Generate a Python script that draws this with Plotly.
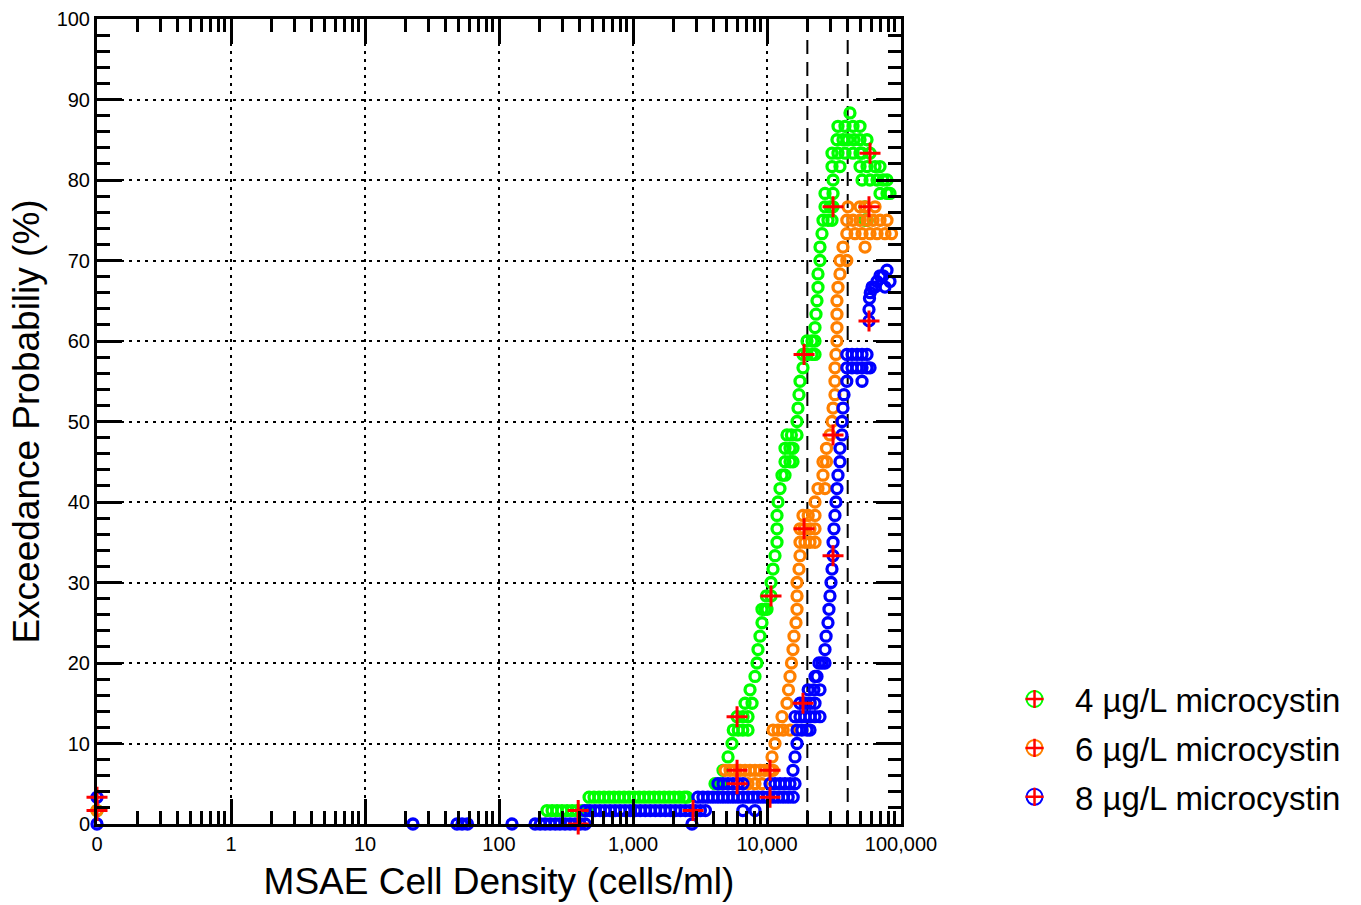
import plotly.graph_objects as go

# Exceedance probability (%) levels and the cell densities (cells/ml) observed at each level.
# A density of 0.1 stands for samples with no MSAE cells (plotted at the "0" tick).
green_levels = [1.67, 3.33, 5, 6.67, 8.33, 10, 11.67, 13.33, 15, 16.67, 18.33, 20, 21.67, 23.33,
                25, 26.67, 28.33, 30, 31.67, 33.33, 35, 36.67, 38.33, 40, 41.67, 43.33, 45, 46.67,
                48.33, 50, 51.67, 53.33, 55, 56.67, 58.33, 60, 61.67, 63.33, 65, 66.67, 68.33, 70,
                71.67, 73.33, 75, 76.67, 78.33, 80, 81.67, 83.33, 85, 86.67, 88.33]
green_cells = [
    [0.1, 228, 249, 271, 295, 322, 351, 383, 417, 455],
    [470, 512, 558, 608, 663, 722, 787, 858, 935, 1019, 1111, 1211, 1320, 1439, 1568, 1709,
     1863, 2031, 2214, 2413, 2530],
    [4093, 4460], [4696], [5120], [5482], [5600, 6100, 6600, 7220], [5976, 6626, 7220],
    [6858, 7734], [7472], [8135], [8418], [8564], [8863], [9173], [9173, 9658, 10000],
    [9900, 10714], [10714], [11090], [11475], [11876], [11876], [11876], [12081], [12500],
    [12940, 13625], [13625, 14850, 15630], [13625, 14850, 15630], [14100, 15200, 16750],
    [16750], [17030], [17330], [17630], [18560], [18560, 19880, 21680, 22820],
    [19880, 21680, 22820], [22820], [23210], [23610], [24020], [24020], [24860], [24860],
    [25730], [26170, 28520, 30550, 53880, 56000], [27090, 29510, 31100, 53880],
    [27090, 31100, 69720, 78630, 82770], [31100, 51180, 58730, 66230, 73390, 78630],
    [30550, 35040, 49450, 55760, 63990, 69720],
    [30550, 33860, 38190, 43850, 49450, 51180, 58730],
    [33270, 36900, 40200, 44600, 49450, 55760], [33860, 38190, 43850, 49450], [41600],
]

orange_levels = [1.67, 5, 6.67, 8.33, 10, 11.67, 13.33, 15, 16.67, 18.33, 20, 21.67, 23.33, 25,
                 26.67, 28.33, 30, 31.67, 33.33, 35, 36.67, 38.33, 40, 41.67, 43.33, 45, 46.67,
                 48.33, 50, 51.67, 53.33, 55, 56.67, 58.33, 60, 61.67, 63.33, 65, 66.67, 68.33,
                 70, 71.67, 73.33, 75, 76.67]
orange_cells = [
    [0.1], [7220, 8135, 9173],
    [4862, 5298, 5773, 6293, 6858, 7472, 8135, 8863, 9658, 10530, 11090],
    [10900], [11475], [11090, 12081, 13200, 14850], [12940], [14100], [14470], [14850],
    [15230], [15630], [15900], [16460], [16750], [16750], [16750], [17330], [17630],
    [17630, 19210, 20940, 22820], [17630, 18900, 20940, 22820], [18560, 20300, 22820],
    [22820], [24020, 27090], [26170], [26170, 27800], [27800], [29510], [30550], [31100],
    [32150], [32150], [32150], [32700], [33270], [33270], [33270], [33270], [33860], [35040],
    [35040, 39400], [36900, 53880],
    [39400, 45390, 51180, 58730, 66230, 75960, 85000],
    [39400, 43850, 49450, 55760, 61830, 69720, 78630],
    [40200, 49450, 53880, 63990],
]

blue_levels = [0, 1.67, 3.33, 5, 6.67, 8.33, 10, 11.67, 13.33, 15, 16.67, 18.33, 20, 21.67,
               23.33, 25, 26.67, 28.33, 30, 31.67, 33.33, 35, 36.67, 38.33, 40, 41.67, 43.33, 45,
               46.67, 48.33, 50, 51.67, 53.33, 55, 56.67, 58.33, 62.5, 63.9, 65.3, 66.0, 66.7,
               67.4, 68.1, 68.8]
blue_cells = [
    [0.1, 22.8, 48.6, 53, 58.2, 125, 186, 203, 221, 241, 263, 285, 311, 339, 370, 403, 440,
     2754],
    [438, 478, 521, 568, 619, 675, 736, 802, 874, 953, 1039, 1133, 1235, 1346, 1467, 1599,
     1743, 1900, 2071, 2257, 2460, 2682, 2923, 3186, 3473, 6600, 8135],
    [0.1, 3050, 3325, 3624, 3950, 4306, 4693, 5116, 5576, 6078, 6625, 7221, 7871, 8579, 9351,
     10193, 11110, 12110, 13200, 14388, 15683],
    [4300, 4690, 5116, 5576, 6078, 6625, 10530, 11475, 12500, 13625, 14850, 16180],
    [15630], [16180], [16750], [16750, 18200, 19880, 20940],
    [16180, 17630, 19210, 20940, 22800, 24860], [17630, 19210, 21000, 22820],
    [20300, 22400, 24860], [22820, 23610], [24400, 25730, 27090], [27090], [27600], [28520],
    [29000], [29510], [30030], [30550], [31100], [31100], [31600], [32150], [32700], [33270],
    [33860], [35040], [35040], [36290], [36290], [36900], [37550], [39400, 51180],
    [39400, 43100, 47000, 51180, 55760, 58730], [39400, 43100, 47000, 51180, 55760],
    [57700], [57700], [58200], [59000], [60800, 63990, 75960], [66230, 82770],
    [69720, 73390], [78630],
]

# Observed exceedance values (red crosses)
green_obs_cells = [0.1, 390, 5976, 10714, 18900, 31100, 58730]
green_obs_pct = [1.67, 1.67, 13.33, 28.33, 58.33, 76.67, 83.33]
orange_obs_cells = [0.1, 5976, 10530, 18900, 31100, 57700]
orange_obs_pct = [3.33, 6.67, 6.67, 36.67, 48.33, 76.67]
blue_obs_cells = [390, 2806, 5976, 10530, 18560, 31100, 57700]
blue_obs_pct = [0, 1.67, 5, 3.33, 15, 33.33, 62.5]

# Reference densities marked with dashed vertical lines
threshold_cells = [20000, 40000]

x_tick_vals = [0.1, 1, 10, 100, 1000, 10000, 100000]
x_tick_text = ["0", "1", "10", "100", "1,000", "10,000", "100,000"]
y_tick_vals = list(range(0, 101, 10))

series_names = ["4 \u00b5g/L microcystin", "6 \u00b5g/L microcystin", "8 \u00b5g/L microcystin"]
series_colors = ["#00FF00", "#FF8000", "#0000FF"]
RED = "#FF0000"


def flatten(levels, cells):
    xs, ys = [], []
    for level, row in zip(levels, cells):
        xs.extend(row)
        ys.extend([level] * len(row))
    return xs, ys


FONT = "Arial, Liberation Sans, sans-serif"
fig = go.Figure()

for t in threshold_cells:
    fig.add_trace(go.Scatter(
        x=[t, t], y=[0, 100], mode="lines", showlegend=False, hoverinfo="skip",
        line=dict(color="black", width=2, dash="14px,8px"),
    ))

for color, levels, cells in zip(series_colors,
                                [green_levels, orange_levels, blue_levels],
                                [green_cells, orange_cells, blue_cells]):
    xs, ys = flatten(levels, cells)
    fig.add_trace(go.Scatter(
        x=xs, y=ys, mode="markers", showlegend=False, cliponaxis=False,
        marker=dict(symbol="circle-open", size=10, color=color, line=dict(width=3.3, color=color)),
    ))

for ox, oy in zip([green_obs_cells, orange_obs_cells, blue_obs_cells],
                  [green_obs_pct, orange_obs_pct, blue_obs_pct]):
    fig.add_trace(go.Scatter(
        x=ox, y=oy, mode="markers", showlegend=False, cliponaxis=False,
        marker=dict(symbol="cross-thin-open", size=15, color=RED, line=dict(width=3, color=RED)),
    ))

# Legend keys: a coloured ring (legend) with a red cross laid over it (legend2)
for i, (name, color) in enumerate(zip(series_names, series_colors)):
    fig.add_trace(go.Scatter(
        x=[None], y=[None], mode="markers", name=name, legend="legend", legendgroup=f"g{i}",
        marker=dict(symbol="circle-open", size=16, color=color, line=dict(width=2, color=color)),
    ))
    fig.add_trace(go.Scatter(
        x=[None], y=[None], mode="markers", name=name, legend="legend2", legendgroup=f"g{i}",
        marker=dict(symbol="cross-thin-open", size=13, color=RED, line=dict(width=2.5, color=RED)),
    ))

minor_x = [m * 10 ** e for e in range(-1, 5) for m in range(2, 10)]
minor_y = [v for v in range(0, 101, 2) if v % 10]

axis_common = dict(
    showline=True, linecolor="black", linewidth=3, mirror="allticks",
    ticks="inside", ticklen=25, tickwidth=2.5, tickcolor="black",
    showgrid=True, gridcolor="black", gridwidth=1.5, griddash="3px,5px",
    zeroline=False, automargin=False, tickfont=dict(family=FONT, size=20, color="black"),
)

fig.update_xaxes(
    type="log", range=[-1, 5], tickmode="array", tickvals=x_tick_vals, ticktext=x_tick_text,
    minor=dict(tickmode="array", tickvals=minor_x, ticks="inside", ticklen=13, tickwidth=2.5,
               tickcolor="black", showgrid=False),
    title=dict(text="MSAE Cell Density (cells/ml)", font=dict(family=FONT, size=37, color="black"),
               standoff=15),
    **axis_common,
)
fig.update_yaxes(
    range=[0, 100], tickmode="array", tickvals=y_tick_vals,
    minor=dict(tickmode="array", tickvals=minor_y, ticks="inside", ticklen=13, tickwidth=2.5,
               tickcolor="black", showgrid=False),
    title=dict(text="Exceedance Probabiliy (%)", font=dict(family=FONT, size=37, color="black"),
               standoff=6),
    **axis_common,
)

legend_common = dict(
    x=1.1157, y=0.19, xanchor="left", yanchor="top", bgcolor="rgba(0,0,0,0)",
    itemsizing="trace", itemwidth=71, tracegroupgap=3,
)
fig.update_layout(
    width=1361, height=905,
    margin=dict(l=97, r=460, t=19, b=81),
    plot_bgcolor="white", paper_bgcolor="white",
    legend=dict(font=dict(family=FONT, size=33, color="black"), **legend_common),
    legend2=dict(font=dict(family=FONT, size=33, color="rgba(0,0,0,0)"), **legend_common),
)

fig.write_html("out.html")
